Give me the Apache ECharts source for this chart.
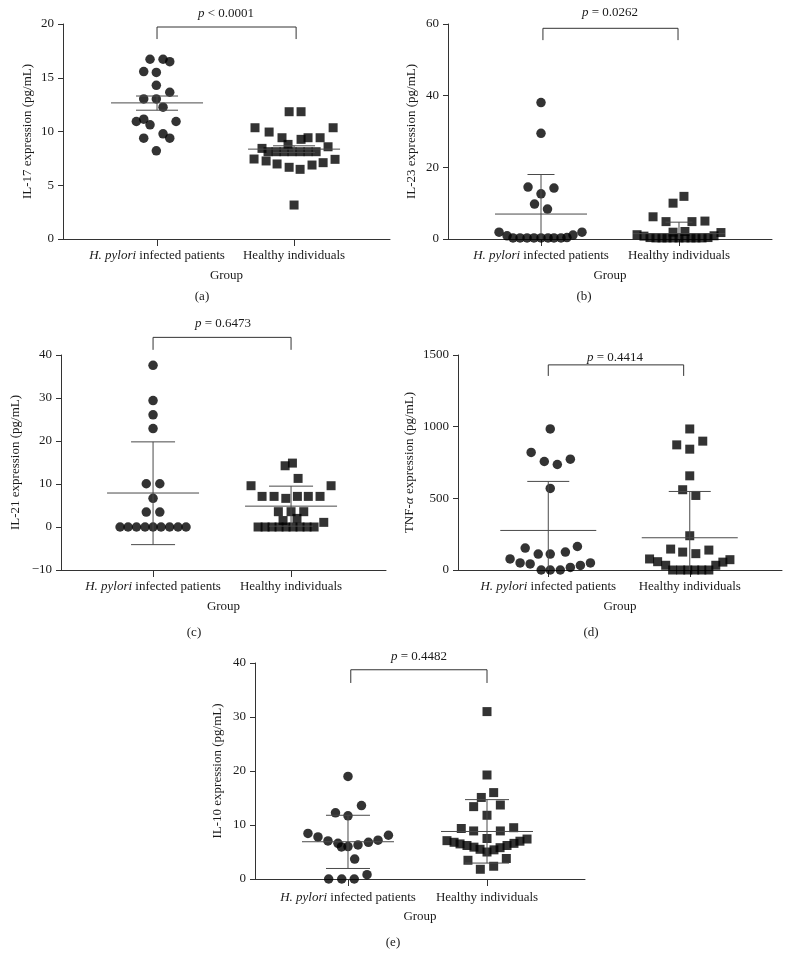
<!DOCTYPE html>
<html><head><meta charset="utf-8">
<script src="https://cdn.jsdelivr.net/npm/echarts@6/dist/echarts.min.js"></script>
<style>html,body{margin:0;padding:0;background:#fff}#c{width:791px;height:969px}</style>
</head><body><div id="c"></div>
<script>
// ---------- categories / labels ----------
const GROUPS = ['H. pylori infected patients', 'Healthy individuals'];
const ITALIC_PART = 'H. pylori';
const X_NAME = 'Group';
const PANEL_TAGS = ['(a)', '(b)', '(c)', '(d)', '(e)'];
const Y_NAMES = ['IL-17 expression (pg/mL)', 'IL-23 expression (pg/mL)', 'IL-21 expression (pg/mL)', 'TNF-{i|α} expression (pg/mL)', 'IL-10 expression (pg/mL)'];
const P_TEXT = ['< 0.0001', '= 0.0262', '= 0.6473', '= 0.4414', '= 0.4482'];
const Y_TICKS = [[0, 20, 5], [0, 60, 20], [-10, 40, 10], [0, 1500, 500], [0, 40, 10]];

// ---------- IL-17 ----------
const IL17_HP   = [16.72,16.72,16.5,15.57,15.5,14.3,13.03,13.03,13.65,12.26,10.93,11.15,10.62,10.93,9.38,9.78,9.38,8.2];
const IL17_HP_J = [-0.051,0.044,0.093,-0.097,-0.005,-0.005,-0.097,-0.005,0.093,0.044,-0.151,-0.097,-0.051,0.139,-0.097,0.044,0.093,-0.005];
const IL17_HC   = [11.84,11.84,10.35,10.35,9.95,9.42,9.27,9.42,9.42,8.8,8.43,8.58,8.12,8.12,8.12,8.12,8.12,8.12,8.12,7.44,7.26,6.98,6.67,6.48,6.88,7.1,7.41,3.16];
const IL17_HC_J = [-0.036,0.051,-0.285,0.285,-0.182,-0.088,0.051,0.102,0.19,-0.044,-0.234,0.248,-0.19,-0.131,-0.073,-0.015,0.044,0.102,0.161,-0.292,-0.204,-0.124,-0.036,0.044,0.131,0.212,0.299,0];
const IL17_STATS = [[12.66, 11.98, 13.3], [8.36, 8.05, 8.67]]; // mean, low, high

// ---------- IL-23 ----------
const IL23_HP   = [38.07,29.5,14.5,14.2,12.6,9.75,8.36,1.9,0.9,0.3,0.3,0.3,0.3,0.3,0.3,0.3,0.3,0.4,1.1,1.9];
const IL23_HP_J = [0,0,-0.094,0.094,0,-0.047,0.047,-0.304,-0.246,-0.203,-0.152,-0.101,-0.051,0,0.051,0.094,0.145,0.188,0.232,0.297];
const IL23_HC   = [11.9,10.0,6.2,4.85,4.85,5.0,1.9,2.1,1.2,1.8,0.8,0.4,0.3,0.3,0.3,0.3,0.3,0.3,0.3,0.3,0.3,0.4,0.9];
const IL23_HC_J = [0.036,-0.043,-0.188,-0.094,0.094,0.188,-0.043,0.043,-0.304,0.304,-0.254,-0.21,-0.167,-0.123,-0.087,-0.043,0,0.043,0.087,0.123,0.167,0.21,0.254];
const IL23_STATS = [[6.96, -4.08, 18.0], [1.5, -1.7, 4.7]];

// ---------- IL-21 ----------
const IL21_HP   = [37.6,29.4,26.1,22.9,10.06,10.06,6.66,3.48,3.48,0,0,0,0,0,0,0,0,0];
const IL21_HP_J = [0,0,0,0,-0.049,0.049,0,-0.049,0.049,-0.239,-0.181,-0.12,-0.058,0,0.058,0.12,0.181,0.239];
const IL21_HC   = [14.86,14.24,11.3,9.6,9.6,7.12,7.12,6.66,7.12,7.12,7.12,3.56,3.56,3.56,1.5,2.0,1.08,0,0,0,0,0,0,0,0,0];
const IL21_HC_J = [0.01,-0.043,0.051,-0.29,0.29,-0.21,-0.123,-0.038,0.046,0.125,0.21,-0.092,0,0.092,-0.058,0.043,0.237,-0.239,-0.188,-0.138,-0.087,-0.036,0.014,0.065,0.116,0.167];
const IL21_STATS = [[7.9, -4.1, 19.8], [4.85, 0.2, 9.5]];

// ---------- TNF-α ----------
const TNF_HP   = [984,820,757,736,773,569,77,49,153,42,111,0,111,0,0,125,18,164,32,49];
const TNF_HP_J = [0.014,-0.121,-0.028,0.064,0.156,0.014,-0.27,-0.199,-0.163,-0.128,-0.071,-0.05,0.014,0.014,0.085,0.121,0.156,0.206,0.227,0.298];
const TNF_HC   = [984,873,843,899,657,560,520,239,146,125,114,139,77,58,33,0,0,0,0,0,0,33,55,72];
const TNF_HC_J = [0,-0.092,0,0.092,0,-0.05,0.043,0,-0.135,-0.05,0.043,0.135,-0.284,-0.227,-0.17,-0.121,-0.064,-0.014,0.035,0.085,0.135,0.184,0.234,0.284];
const TNF_STATS = [[276, -66, 618], [225, -98, 548]];

// ---------- IL-10 ----------
const IL10_HP   = [19.0,12.26,11.7,13.6,8.43,7.8,7.06,6.6,5.94,6.0,6.3,6.8,7.18,8.1,3.7,0,0,0,0.8];
const IL10_HP_J = [0,-0.09,0,0.097,-0.288,-0.216,-0.144,-0.072,-0.047,0,0.072,0.147,0.216,0.291,0.048,-0.139,-0.045,0.045,0.137];
const IL10_HC   = [31.0,19.26,16.0,15.1,13.4,13.7,11.8,9.35,8.9,8.9,9.5,7.5,7.1,6.8,6.5,6.2,5.9,5.5,5.0,5.4,5.8,6.2,6.6,7.0,7.4,3.47,1.8,2.36,3.8];
const IL10_HC_J = [0,0,0.048,-0.041,-0.096,0.096,0,-0.185,-0.096,0.096,0.192,0,-0.288,-0.237,-0.194,-0.144,-0.094,-0.05,0,0.05,0.094,0.144,0.194,0.237,0.288,-0.137,-0.048,0.048,0.139];
const IL10_STATS = [[6.9, 1.95, 11.8], [8.8, 2.95, 14.7]];

// significance brackets: [from, to, top, bottom]
const BRACKETS = [[1, 2.015, 19.72, 18.6], [1.014, 1.993, 58.8, 55.5], [1, 2, 44.1, 41.2], [1, 1.957, 1431, 1354], [1.02, 2.0, 38.75, 36.3]];

// ---------- layout (styles / positions) ----------
const FONT = 'Liberation Serif';
const LAYOUT = [
  {grid:{left:63, top:24, width:327, height:215}, x:[0.314, 2.70], yGap:29, xGap:30, lblM:10, pPos:[226, 14], tag:[202, 297], mw:46, cw:21},
  {grid:{left:448, top:24, width:324, height:215}, x:[0.326, 2.674], yGap:29.5, xGap:30, lblM:10, pPos:[610, 13], tag:[584, 297], mw:46, cw:13.5},
  {grid:{left:61, top:355, width:325, height:215}, x:[0.333, 2.688], yGap:38.5, xGap:30, lblM:10, pPos:[223, 324], tag:[194, 633], mw:46, cw:22},
  {grid:{left:458, top:355, width:324, height:215}, x:[0.362, 2.652], yGap:41.5, xGap:30, lblM:10, pPos:[615, 358], tag:[591, 633], mw:48, cw:21},
  {grid:{left:255, top:663, width:330, height:216}, x:[0.331, 2.705], yGap:31, xGap:31.5, lblM:12, pPos:[419, 657], tag:[393, 943], mw:46, cw:22}
];

const DATA = [
  [IL17_HP, IL17_HP_J, IL17_HC, IL17_HC_J, IL17_STATS],
  [IL23_HP, IL23_HP_J, IL23_HC, IL23_HC_J, IL23_STATS],
  [IL21_HP, IL21_HP_J, IL21_HC, IL21_HC_J, IL21_STATS],
  [TNF_HP, TNF_HP_J, TNF_HC, TNF_HC_J, TNF_STATS],
  [IL10_HP, IL10_HP_J, IL10_HC, IL10_HC_J, IL10_STATS]
];

const TXT = '#1a1a1a', AX = '#333', LN = '#4a4a4a';
const FS = 13;

function catLabel(v) {
  const s = GROUPS[Math.round(v) - 1] || '';
  if (s.indexOf(ITALIC_PART) === 0) return '{i|' + ITALIC_PART + '}' + s.slice(ITALIC_PART.length);
  return s;
}
function numLabel(v) { return String(v).replace('-', '\u2212'); }

const option = {animation:false, backgroundColor:'#fff', grid:[], xAxis:[], yAxis:[], series:[], graphic:[]};

LAYOUT.forEach((L, k) => {
  const [hp, hpj, hc, hcj, st] = DATA[k];
  option.grid.push(Object.assign({containLabel:false, outerBoundsMode:'none'}, L.grid));
  option.xAxis.push({
    type:'value', gridIndex:k, min:L.x[0], max:L.x[1],
    name:X_NAME, nameLocation:'middle', nameGap:L.xGap,
    nameTextStyle:{fontFamily:FONT, fontSize:FS, color:TXT},
    axisLine:{show:true, onZero:false, lineStyle:{color:AX, width:1}},
    axisTick:{show:true, customValues:[1,2], length:7, lineStyle:{color:AX}},
    axisLabel:{show:true, customValues:[1,2], margin:L.lblM, formatter:catLabel,
      fontFamily:FONT, fontSize:FS, color:TXT,
      rich:{i:{fontStyle:'italic', fontFamily:FONT, fontSize:FS, color:TXT}}},
    splitLine:{show:false}
  });
  const yt = Y_TICKS[k];
  option.yAxis.push({
    type:'value', gridIndex:k, min:yt[0], max:yt[1], interval:yt[2],
    name:Y_NAMES[k], nameLocation:'middle', nameGap:L.yGap, nameRotate:90,
    nameTextStyle:{fontFamily:FONT, fontSize:FS, color:TXT, rich:{i:{fontStyle:'italic', fontFamily:FONT, fontSize:FS, color:TXT}}},
    axisLine:{show:true, onZero:false, lineStyle:{color:AX, width:1}},
    axisTick:{show:true, length:5, lineStyle:{color:AX}},
    axisLabel:{fontFamily:FONT, fontSize:FS, color:TXT, margin:9, formatter:numLabel},
    splitLine:{show:false}
  });
  option.series.push({
    type:'scatter', xAxisIndex:k, yAxisIndex:k, symbol:'circle', symbolSize:9.5,
    itemStyle:{color:'#000'}, z:2,
    data: hp.map((v, i) => [1 + hpj[i], v])
  });
  option.series.push({
    type:'scatter', xAxisIndex:k, yAxisIndex:k, symbol:'rect', symbolSize:9,
    itemStyle:{color:'#000'}, z:2,
    data: hc.map((v, i) => [2 + hcj[i], v])
  });
  option.series.push({
    type:'custom', xAxisIndex:k, yAxisIndex:k, clip:true, z:3,
    data: st.map((s, i) => [i + 1, s[0], s[1], s[2]]),
    renderItem: (params, api) => {
      const c = api.coord([api.value(0), api.value(1)]);
      const lo = api.coord([api.value(0), api.value(2)]);
      const hi = api.coord([api.value(0), api.value(3)]);
      const sty = {stroke:LN, lineWidth:1};
      return {type:'group', children:[
        {type:'line', shape:{x1:c[0]-L.mw, y1:c[1], x2:c[0]+L.mw, y2:c[1]}, style:sty},
        {type:'line', shape:{x1:c[0], y1:hi[1], x2:c[0], y2:lo[1]}, style:sty},
        {type:'line', shape:{x1:c[0]-L.cw, y1:hi[1], x2:c[0]+L.cw, y2:hi[1]}, style:sty},
        {type:'line', shape:{x1:c[0]-L.cw, y1:lo[1], x2:c[0]+L.cw, y2:lo[1]}, style:sty}
      ]};
    }
  });
  option.series.push({
    type:'custom', xAxisIndex:k, yAxisIndex:k, clip:false, z:3,
    data:[BRACKETS[k]],
    renderItem: (params, api) => {
      const a = api.coord([api.value(0), api.value(3)]);
      const b = api.coord([api.value(0), api.value(2)]);
      const c = api.coord([api.value(1), api.value(2)]);
      const d = api.coord([api.value(1), api.value(3)]);
      return {type:'polyline', shape:{points:[a, b, c, d]}, style:{stroke:AX, lineWidth:1, fill:null}};
    }
  });
  option.graphic.push({
    type:'text', x:L.pPos[0], y:L.pPos[1], silent:true,
    style:{text:'{i|p} ' + P_TEXT[k], align:'center', verticalAlign:'middle',
      fontFamily:FONT, fontSize:FS, fill:TXT,
      rich:{i:{fontStyle:'italic', fontFamily:FONT, fontSize:FS, fill:TXT}}}
  });
  option.graphic.push({
    type:'text', x:L.tag[0], y:L.tag[1], silent:true,
    style:{text:PANEL_TAGS[k], align:'center', verticalAlign:'middle', fontFamily:FONT, fontSize:FS, fill:TXT}
  });
});

const chart = echarts.init(document.getElementById('c'), null, {renderer:'canvas'});
chart.setOption(option);
</script></body></html>
